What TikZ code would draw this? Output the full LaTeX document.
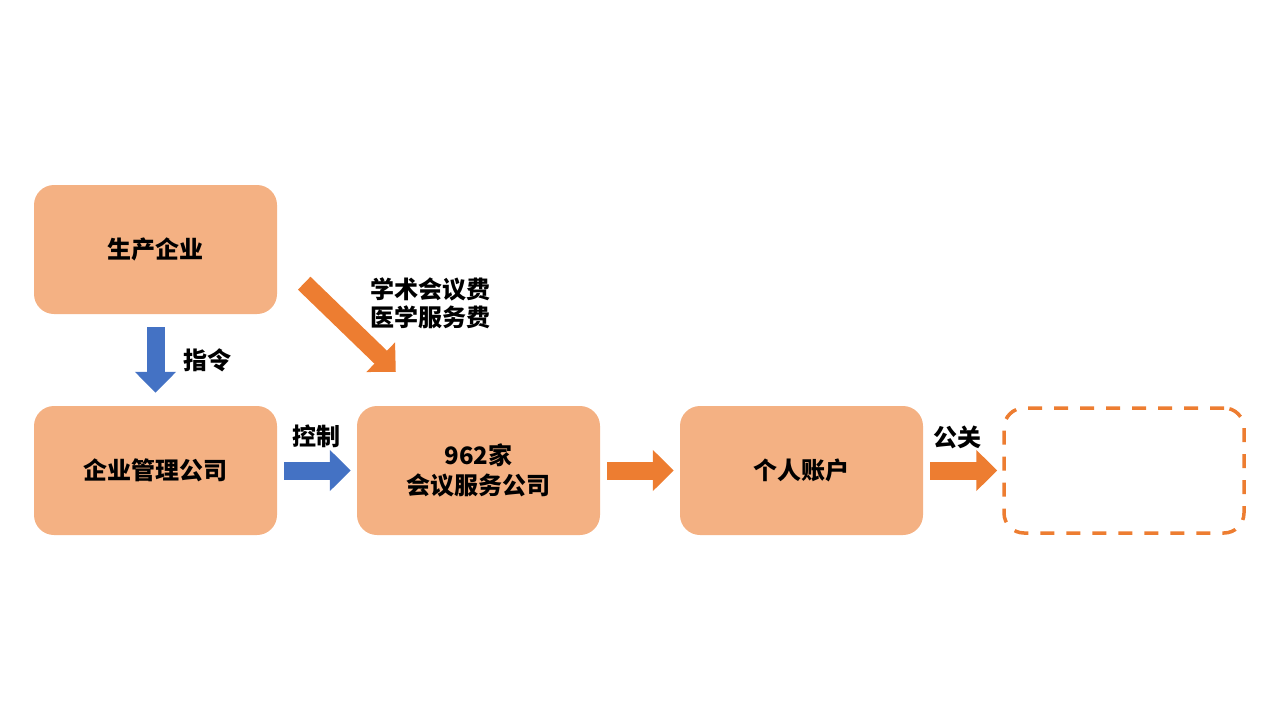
\documentclass[tikz,border=0pt]{standalone}
\usepackage{fontspec}
\setmainfont{Noto Sans CJK SC}
\usetikzlibrary{positioning, arrows.meta}
\definecolor{boxfill}{HTML}{F4B183}
\definecolor{darkorange}{HTML}{ED7D31}
\definecolor{cmdblue}{HTML}{4472C4}

\begin{document}
\begin{tikzpicture}[x=1pt, y=-1pt, font=\fontsize{24}{28}\selectfont\bfseries]
    \tikzstyle{unit} = [rectangle, rounded corners=20pt, fill=boxfill, minimum width=243pt, minimum height=129pt, align=center, inner sep=0pt]
    \tikzstyle{hidden} = [unit, fill=none, draw=darkorange, line width=3.5pt, dash pattern=on 14pt off 12pt, minimum width=240pt, minimum height=125pt]
    \tikzstyle{flow} = [line width=18pt, -{Triangle[width=40pt, length=21pt]}]
    \tikzstyle{tag} = [inner sep=0pt, align=center]

    \useasboundingbox (0,0) rectangle (1280,720);

    % Riquadri
    \node[unit] (maker) at (155.5, 249.5) {生产企业};
    \node[unit] (holding) at (155.5, 470.5) {企业管理公司};
    \node[unit] (agency) at (478.5, 470.5) {962家\\[2pt]会议服务公司};
    \node[unit] (account) at (801.5, 470.5) {个人账户};
    \node[hidden] (unknown) at (1124, 470.5) {};

    % Frecce blu
    \draw[flow, cmdblue, shorten <=13pt, shorten >=13pt] (maker) -- (holding);
    \draw[flow, cmdblue, shorten <=7pt, shorten >=6pt] (holding) -- (agency);

    % Frecce arancioni
    \draw[flow, darkorange] ([shift={(27,-31)}]maker.south east) -- ([shift={(39,-34)}]agency.north west);
    \draw[flow, darkorange, shorten <=7pt, shorten >=6pt] (agency) -- (account);
    \draw[flow, darkorange, shorten <=7pt, shorten >=5pt] (account) -- (unknown);

    % Etichette
    \node[tag] (orderlbl) at (207, 360) {指令};
    \node[tag] (ctrllbl) at (316, 436) {控制};
    \node[tag] (feelbl) at (430, 303) {学术会议费\\医学服务费};
    \node[tag] (prlbl) at (957, 437) {公关};
\end{tikzpicture}
\end{document}
